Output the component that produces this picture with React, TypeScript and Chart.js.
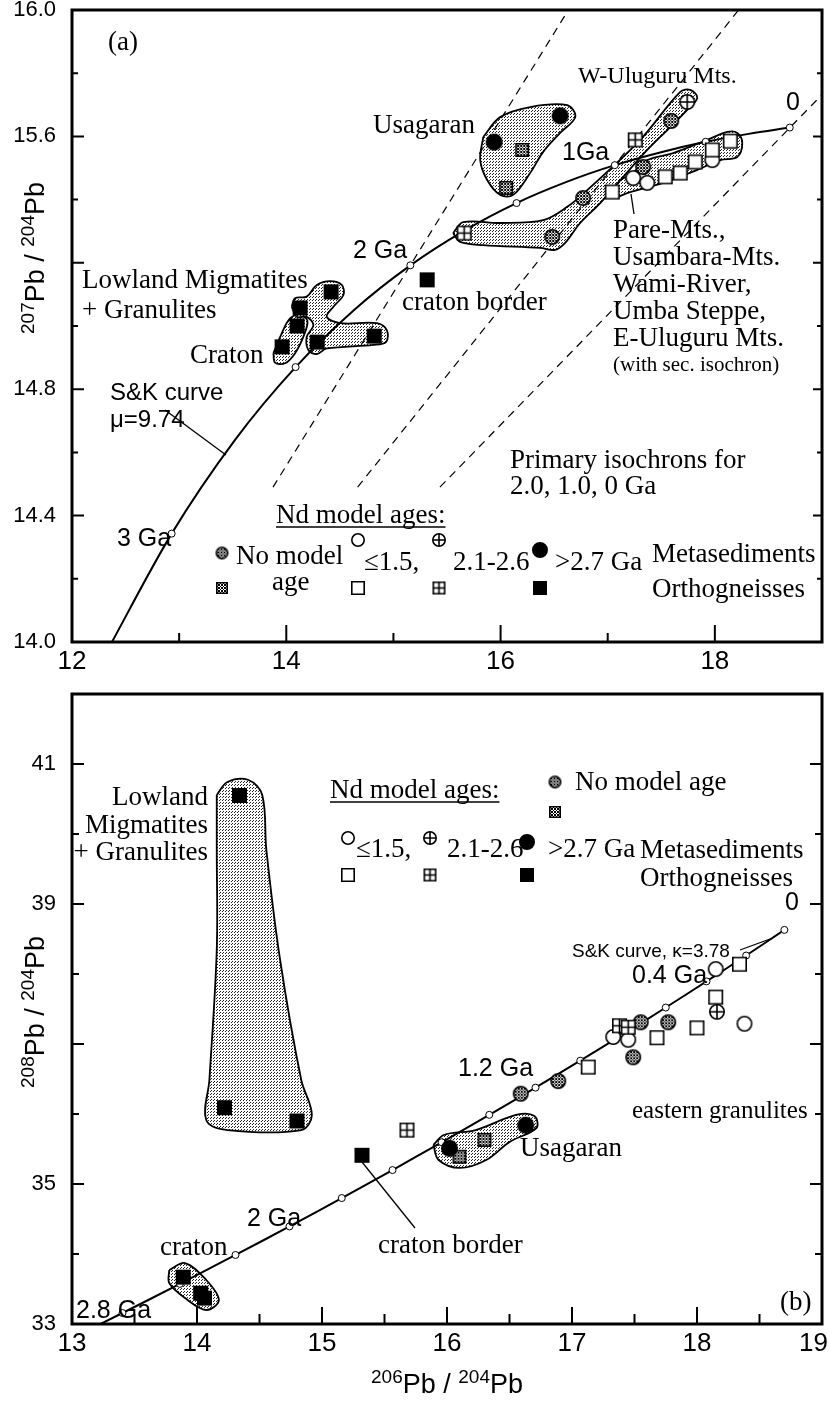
import React, { useEffect, useRef } from 'react';
import { Chart, registerables } from 'chart.js';

Chart.register(...registerables);

const SERIF = '"Liberation Serif", "Times New Roman", serif';
const SANS = '"Liberation Sans", Arial, Helvetica, sans-serif';
const NARROW = '"Liberation Sans Narrow", "Liberation Sans", Arial, sans-serif';

// ================= Panel (a): 207Pb/204Pb vs 206Pb/204Pb =================
const aXTickValues = [12, 13, 14, 15, 16, 17, 18, 19];
const aXTickLabels = ['12', '14', '16', '18'];
const aYTickValues = [14.0, 14.2, 14.4, 14.6, 14.8, 15.0, 15.2, 15.4, 15.6, 15.8, 16.0];
const aYTickLabels = ['14.0', '14.4', '14.8', '15.6', '16.0'];
const aYMajor = ['14.0', '14.4', '14.8', '15.2', '15.6', '16.0'];

// S&K growth curve (mu = 9.74)
const skA206 = [18.699, 18.315, 17.914, 17.498, 17.066, 16.616, 16.149, 15.663, 15.158, 14.633, 14.087, 13.520, 12.930, 12.317];
const skA207 = [15.628, 15.608, 15.583, 15.550, 15.509, 15.456, 15.389, 15.302, 15.192, 15.051, 14.870, 14.639, 14.343, 13.965];
// age marks on the curve: 0, 0.5, 1, 1.5, 2, 2.5, 3 Ga
const skAMark206 = [18.699, 17.914, 17.066, 16.149, 15.158, 14.087, 12.930];
const skAMark207 = [15.628, 15.583, 15.509, 15.389, 15.192, 14.870, 14.343];

// primary isochrons 2.0, 1.0, 0 Ga
const iso20_206 = [13.876, 16.633];
const iso20_207 = [14.49, 16.0];
const iso10_206 = [14.666, 18.222];
const iso10_207 = [14.49, 16.0];
const iso00_206 = [15.434, 19.0];
const iso00_207 = [14.49, 15.732];

// sample groups (outlines)
const usagaranA206 = [15.838, 15.996, 16.276, 16.622, 16.697, 16.556, 16.398, 16.276, 16.118, 15.996, 15.875, 15.810, 15.838];
const usagaranA207 = [15.598, 15.661, 15.693, 15.699, 15.661, 15.611, 15.551, 15.484, 15.415, 15.415, 15.462, 15.525, 15.598];
const uluguruA206 = [15.557, 15.651, 15.996, 16.398, 16.622, 16.809, 17.303, 17.677, 17.770, 17.836, 17.742, 17.556, 17.369, 17.145, 16.930, 16.743, 16.603, 16.510, 16.370, 15.838, 15.623, 15.557];
const uluguruA207 = [15.294, 15.329, 15.326, 15.335, 15.377, 15.430, 15.589, 15.741, 15.747, 15.722, 15.684, 15.620, 15.557, 15.472, 15.389, 15.326, 15.263, 15.241, 15.247, 15.256, 15.266, 15.294];
const pareA206 = [16.958, 17.210, 17.369, 17.612, 17.929, 18.116, 18.209, 18.256, 18.209, 18.050, 17.836, 17.518, 17.210, 17.023, 16.958];
const pareA207 = [15.446, 15.478, 15.525, 15.547, 15.589, 15.614, 15.611, 15.579, 15.535, 15.525, 15.494, 15.453, 15.424, 15.405, 15.446];
const lowlandA206 = [14.051, 14.082, 14.191, 14.285, 14.409, 14.518, 14.533, 14.440, 14.378, 14.502, 14.845, 14.938, 14.932, 14.813, 14.378, 14.285, 14.206, 14.191, 14.253, 14.191, 14.098, 14.051];
const lowlandA207 = [15.061, 15.088, 15.093, 15.130, 15.142, 15.130, 15.098, 15.061, 15.029, 15.009, 15.009, 14.987, 14.950, 14.940, 14.929, 14.911, 14.924, 14.966, 15.003, 15.029, 15.029, 15.061];
const cratonA206 = [13.880, 13.958, 14.035, 14.129, 14.197, 14.166, 14.082, 13.989, 13.895, 13.880];
const cratonA207 = [14.914, 14.977, 15.024, 15.035, 15.017, 14.972, 14.914, 14.882, 14.884, 14.914];

// samples
const aFillSq206 = [14.418, 14.129, 14.101, 13.961, 14.288, 14.820, 15.315];
const aFillSq207 = [15.108, 15.057, 15.000, 14.934, 14.949, 14.968, 15.146];
const aFillCi206 = [15.940, 16.556];
const aFillCi207 = [15.582, 15.665];
const aHatchSq206 = [16.202, 16.052];
const aHatchSq207 = [15.557, 15.437];
const aCrossSq206 = [15.660, 17.257];
const aCrossSq207 = [15.294, 15.589];
const aCrossCi206 = [17.742];
const aCrossCi207 = [15.709];
const aHatchCi206 = [16.482, 16.771, 17.593, 17.331];
const aHatchCi207 = [15.282, 15.405, 15.649, 15.503];
const aOpenSq206 = [17.042, 17.537, 17.677, 17.817, 17.976, 18.144];
const aOpenSq207 = [15.424, 15.472, 15.484, 15.519, 15.557, 15.585];
const aOpenCi206 = [17.238, 17.369, 17.976];
const aOpenCi207 = [15.468, 15.453, 15.525];

// ================= Panel (b): 208Pb/204Pb vs 206Pb/204Pb =================
const bXTickValues = [13, 13.5, 14, 14.5, 15, 15.5, 16, 16.5, 17, 17.5, 18, 18.5, 19];
const bXTickLabels = ['13', '14', '15', '16', '17', '18', '19'];
const bYTickValues = [33, 34, 35, 36, 37, 38, 39, 40, 41, 42];
const bYTickLabels = ['33', '35', '39', '41'];
const bYMajor = ['33', '35', '37', '39', '41'];

// S&K curve (kappa = 3.78), marks every 0.2 Ga from 0 to 2.8 Ga
const skB206 = [18.699, 18.393, 18.076, 17.750, 17.413, 17.066, 16.708, 16.338, 15.957, 15.564, 15.158, 14.740, 14.308, 13.863, 13.404, 12.930];
const skB208 = [38.630, 38.264, 37.894, 37.521, 37.143, 36.762, 36.377, 35.988, 35.596, 35.199, 34.799, 34.394, 33.986, 33.573, 33.157, 32.736];
const skBMark206 = [18.699, 18.393, 18.076, 17.750, 17.413, 17.066, 16.708, 16.338, 15.957, 15.564, 15.158, 14.740, 14.308, 13.863, 13.404];
const skBMark208 = [38.630, 38.264, 37.894, 37.521, 37.143, 36.762, 36.377, 35.988, 35.596, 35.199, 34.799, 34.394, 33.986, 33.573, 33.157];

const lowlandB206 = [14.158, 14.243, 14.412, 14.522, 14.555, 14.665, 14.834, 14.919, 14.834, 14.243, 14.074, 14.099, 14.158, 14.158, 14.158];
const lowlandB208 = [40.557, 40.743, 40.771, 40.557, 39.771, 38.200, 36.486, 35.986, 35.771, 35.771, 35.914, 36.486, 38.343, 39.771, 40.557];
const usagaranB206 = [15.891, 15.975, 16.229, 16.560, 16.700, 16.715, 16.500, 16.314, 16.102, 15.933, 15.891];
const usagaranB208 = [35.557, 35.700, 35.771, 35.990, 35.970, 35.800, 35.600, 35.343, 35.229, 35.343, 35.557];
const cratonB206 = [13.778, 13.904, 14.074, 14.175, 14.074, 13.904, 13.778, 13.778];
const cratonB208 = [33.771, 33.871, 33.629, 33.343, 33.200, 33.371, 33.586, 33.771];

const bFillSq206 = [14.34, 14.22, 14.80, 15.32, 13.89, 14.03, 14.06];
const bFillSq208 = [40.55, 36.09, 35.90, 35.41, 33.67, 33.44, 33.37];
const bFillCi206 = [16.63, 16.02];
const bFillCi208 = [35.84, 35.51];
const bHatchSq206 = [16.30, 16.10];
const bHatchSq208 = [35.63, 35.39];
const bCrossSq206 = [15.68, 17.38, 17.45];
const bCrossSq208 = [35.77, 37.26, 37.24];
const bCrossCi206 = [18.16];
const bCrossCi208 = [37.46];
const bHatchCi206 = [17.77, 17.55, 17.49, 16.89, 16.59];
const bHatchCi208 = [37.31, 37.31, 36.81, 36.47, 36.29];
const bOpenSq206 = [18.34, 18.15, 18.00, 17.68, 17.13];
const bOpenSq208 = [38.14, 37.67, 37.23, 37.09, 36.67];
const bOpenCi206 = [18.15, 18.38, 17.33, 17.45];
const bOpenCi208 = [38.07, 37.29, 37.10, 37.06];

// ================= helpers =================
function toPts(xs: number[], ys: number[]) {
  return xs.map((x, i) => ({ x, y: ys[i] }));
}

function makeMarker(kind: string, size: number): HTMLCanvasElement {
  const pad = 2;
  const c = document.createElement('canvas');
  c.width = size + pad * 2;
  c.height = size + pad * 2;
  const ctx = c.getContext('2d') as CanvasRenderingContext2D;
  const cx = c.width / 2;
  const cy = c.height / 2;
  const lw = 1.6;
  const r = size / 2 - lw / 2;
  const circle = kind.indexOf('Ci') >= 0;
  const path = () => {
    ctx.beginPath();
    if (circle) ctx.arc(cx, cy, r, 0, Math.PI * 2);
    else ctx.rect(cx - r, cy - r, r * 2, r * 2);
  };
  ctx.lineWidth = lw;
  ctx.strokeStyle = '#000';
  if (kind.startsWith('fill')) {
    path();
    ctx.fillStyle = '#000';
    ctx.fill();
    ctx.stroke();
  } else {
    path();
    ctx.fillStyle = '#fff';
    ctx.fill();
    if (kind.startsWith('hatch')) {
      ctx.save();
      path();
      ctx.clip();
      ctx.fillStyle = '#000';
      for (let i = 0; i < c.width; i++) {
        for (let j = 0; j < c.height; j++) {
          if ((i + j) % 3 === 0 || (i - j + 300) % 3 === 0) ctx.fillRect(i, j, 1, 1);
        }
      }
      ctx.restore();
    }
    if (kind.startsWith('cross')) {
      ctx.beginPath();
      ctx.moveTo(cx - r, cy);
      ctx.lineTo(cx + r, cy);
      ctx.moveTo(cx, cy - r);
      ctx.lineTo(cx, cy + r);
      ctx.stroke();
    }
    path();
    ctx.stroke();
  }
  return c;
}

function makeStipple(ctx: CanvasRenderingContext2D): CanvasPattern | string {
  const t = document.createElement('canvas');
  t.width = 3;
  t.height = 3;
  const tc = t.getContext('2d') as CanvasRenderingContext2D;
  tc.fillStyle = '#fff';
  tc.fillRect(0, 0, 3, 3);
  tc.fillStyle = '#222';
  tc.fillRect(0, 0, 1, 1);
  tc.fillRect(1, 2, 1, 1);
  const p = ctx.createPattern(t, 'repeat');
  return p || '#ccc';
}

type Part = { t: string; sup?: boolean };

function drawRich(ctx: CanvasRenderingContext2D, parts: Part[], x: number, y: number, size: number, supSize: number, rotate: boolean) {
  ctx.save();
  ctx.translate(x, y);
  if (rotate) ctx.rotate(-Math.PI / 2);
  let w = 0;
  for (const p of parts) {
    ctx.font = `${p.sup ? supSize : size}px ${SANS}`;
    w += ctx.measureText(p.t).width;
  }
  let cx = -w / 2;
  ctx.fillStyle = '#000';
  ctx.textAlign = 'left';
  ctx.textBaseline = 'alphabetic';
  for (const p of parts) {
    ctx.font = `${p.sup ? supSize : size}px ${SANS}`;
    ctx.fillText(p.t, cx, p.sup ? -size * 0.38 : 0);
    cx += ctx.measureText(p.t).width;
  }
  ctx.restore();
}

type Label = { t: string; x: number; y: number; f: string; align?: CanvasTextAlign; u?: boolean };

function drawLabels(ctx: CanvasRenderingContext2D, labels: Label[]) {
  ctx.save();
  ctx.fillStyle = '#000';
  ctx.textBaseline = 'alphabetic';
  for (const l of labels) {
    ctx.font = l.f;
    ctx.textAlign = l.align || 'left';
    ctx.fillText(l.t, l.x, l.y);
    if (l.u) {
      const w = ctx.measureText(l.t).width;
      ctx.lineWidth = 1.5;
      ctx.strokeStyle = '#000';
      ctx.beginPath();
      ctx.moveTo(l.x, l.y + 4);
      ctx.lineTo(l.x + w, l.y + 4);
      ctx.stroke();
    }
  }
  ctx.restore();
}

// inward ticks, frame and x tick labels
function drawFrame(chart: any, xLabels: string[], xMajor: (v: number) => boolean, yMajor: (v: number) => boolean, L: any) {
  const { ctx, chartArea: a, scales } = chart;
  ctx.save();
  ctx.strokeStyle = '#000';
  ctx.lineWidth = 2;
  ctx.beginPath();
  for (const t of scales.x.ticks) {
    const px = scales.x.getPixelForValue(t.value);
    const len = xMajor(t.value) ? L.xMaj : L.xMin;
    ctx.moveTo(px, a.bottom);
    ctx.lineTo(px, a.bottom - len);
  }
  for (const t of scales.y.ticks) {
    const py = scales.y.getPixelForValue(t.value);
    const maj = yMajor(t.value);
    ctx.moveTo(a.left, py);
    ctx.lineTo(a.left + (maj ? L.yMaj : L.yMin), py);
    ctx.moveTo(a.right, py);
    ctx.lineTo(a.right - (maj ? L.rMaj : L.rMin), py);
  }
  ctx.stroke();
  ctx.lineWidth = 3;
  ctx.strokeRect(a.left, a.top, a.right - a.left, a.bottom - a.top);
  ctx.font = `26px ${NARROW}`;
  ctx.fillStyle = '#000';
  ctx.textBaseline = 'top';
  for (const t of scales.x.ticks) {
    const s = String(t.value);
    if (!xLabels.includes(s)) continue;
    const px = scales.x.getPixelForValue(t.value);
    const w = ctx.measureText(s).width;
    ctx.textAlign = 'center';
    const cx = Math.min(px, chart.width - 1 - w / 2);
    ctx.fillText(s, cx, a.bottom + 7);
  }
  ctx.restore();
}

function drawLine(ctx: CanvasRenderingContext2D, x1: number, y1: number, x2: number, y2: number) {
  ctx.save();
  ctx.strokeStyle = '#000';
  ctx.lineWidth = 1.3;
  ctx.beginPath();
  ctx.moveTo(x1, y1);
  ctx.lineTo(x2, y2);
  ctx.stroke();
  ctx.restore();
}

const M: any = {};
function markers() {
  if (!M.ready) {
    M.hatchCi = makeMarker('hatchCi', 16);
    M.hatchSq = makeMarker('hatchSq', 14);
    M.openCi = makeMarker('openCi', 16);
    M.openSq = makeMarker('openSq', 15);
    M.crossCi = makeMarker('crossCi', 16);
    M.crossSq = makeMarker('crossSq', 15);
    M.fillCi = makeMarker('fillCi', 17);
    M.fillSq = makeMarker('fillSq', 15);
    M.lHatchCi = makeMarker('hatchCi', 13);
    M.lHatchSq = makeMarker('hatchSq', 12);
    M.lOpenCi = makeMarker('openCi', 14);
    M.lOpenSq = makeMarker('openSq', 14);
    M.lCrossCi = makeMarker('crossCi', 14);
    M.lCrossSq = makeMarker('crossSq', 13);
    M.lFillCi = makeMarker('fillCi', 16);
    M.lFillSq = makeMarker('fillSq', 14);
    M.ready = true;
  }
  return M;
}

function ptsDs(xs: number[], ys: number[], img: HTMLCanvasElement, order: number) {
  return {
    data: toPts(xs, ys),
    showLine: false,
    pointStyle: img,
    pointRadius: 6,
    order,
  };
}

function lineDs(xs: number[], ys: number[], order: number, extra: any = {}) {
  return {
    data: toPts(xs, ys),
    showLine: true,
    borderColor: '#000',
    borderWidth: 1.8,
    pointRadius: 0,
    fill: false,
    tension: 0,
    order,
    ...extra,
  };
}

function blobDs(xs: number[], ys: number[], pattern: any) {
  return lineDs(xs, ys, 30, { fill: 'shape', backgroundColor: pattern, tension: 0.35, borderWidth: 1.8 });
}

function baseOptions(xMin: number, xMax: number, yMin: number, yMax: number, xVals: number[], yVals: number[], yLabel: (v: number) => string, pad: any, xH: number) {
  return {
    responsive: false,
    animation: false,
    events: [],
    layout: { padding: pad },
    plugins: { legend: { display: false }, tooltip: { enabled: false } },
    scales: {
      x: {
        type: 'linear',
        min: xMin,
        max: xMax,
        afterBuildTicks: (s: any) => { s.ticks = xVals.map((v) => ({ value: v })); },
        afterFit: (s: any) => { s.height = xH; s.paddingLeft = 0; s.paddingRight = 0; },
        grid: { display: false },
        border: { display: false },
        ticks: { display: false },
      },
      y: {
        type: 'linear',
        min: yMin,
        max: yMax,
        afterBuildTicks: (s: any) => { s.ticks = yVals.map((v) => ({ value: v })); },
        afterFit: (s: any) => { s.width = 72; s.paddingTop = 0; s.paddingBottom = 0; },
        grid: { display: false },
        border: { display: false },
        ticks: { autoSkip: false, color: '#000', padding: 8, font: { family: SANS, size: 22 }, callback: (v: any) => yLabel(Number(v)) },
      },
    },
  };
}

const S27 = `27px ${SERIF}`;
const H25 = `25px ${SANS}`;

export default function App() {
  const refA = useRef<HTMLCanvasElement>(null);
  const refB = useRef<HTMLCanvasElement>(null);

  useEffect(() => {
    const mk = markers();
    const ctxA = (refA.current as HTMLCanvasElement).getContext('2d') as CanvasRenderingContext2D;
    const ctxB = (refB.current as HTMLCanvasElement).getContext('2d') as CanvasRenderingContext2D;
    const stA = makeStipple(ctxA);
    const stB = makeStipple(ctxB);

    // ---------- chart a ----------
    const labelsA: Label[] = [
      { t: '(a)', x: 108, y: 50, f: S27 },
      { t: 'W-Uluguru Mts.', x: 578, y: 83, f: `24px ${SERIF}` },
      { t: '0', x: 793, y: 110, f: H25, align: 'center' },
      { t: 'Usagaran', x: 373, y: 133, f: S27 },
      { t: '1Ga', x: 562, y: 160, f: H25 },
      { t: '2 Ga', x: 353, y: 258, f: H25 },
      { t: 'craton border', x: 402, y: 310, f: S27 },
      { t: 'Lowland Migmatites', x: 82, y: 288, f: S27 },
      { t: '+ Granulites', x: 82, y: 318, f: S27 },
      { t: 'Craton', x: 190, y: 363, f: S27 },
      { t: 'Pare-Mts.,', x: 613, y: 238, f: S27 },
      { t: 'Usambara-Mts.', x: 613, y: 265, f: S27 },
      { t: 'Wami-River,', x: 613, y: 292, f: S27 },
      { t: 'Umba Steppe,', x: 613, y: 319, f: S27 },
      { t: 'E-Uluguru Mts.', x: 613, y: 346, f: S27 },
      { t: '(with sec. isochron)', x: 613, y: 371, f: `21px ${SERIF}` },
      { t: 'S&K curve', x: 110, y: 400, f: `24px ${SANS}` },
      { t: 'μ=9.74', x: 110, y: 427, f: `24px ${SANS}` },
      { t: 'Primary isochrons for', x: 510, y: 468, f: S27 },
      { t: '2.0, 1.0, 0 Ga', x: 510, y: 494, f: S27 },
      { t: '3 Ga', x: 117, y: 546, f: H25 },
      { t: 'Nd model ages:', x: 276, y: 523, f: S27, u: true },
      { t: 'No model', x: 236, y: 564, f: S27 },
      { t: 'age', x: 272, y: 590, f: S27 },
      { t: '≤1.5,', x: 364, y: 570, f: S27 },
      { t: '2.1-2.6', x: 453, y: 570, f: S27 },
      { t: '>2.7 Ga', x: 555, y: 570, f: S27 },
      { t: 'Metasediments', x: 652, y: 562, f: S27 },
      { t: 'Orthogneisses', x: 652, y: 597, f: S27 },
    ];

    const pluginA = {
      id: 'decorA',
      afterDraw(chart: any) {
        const c = chart.ctx;
        drawFrame(chart, aXTickLabels, (v) => aXTickLabels.includes(String(v)), (v) => aYMajor.includes(v.toFixed(1)), { xMaj: 17, xMin: 9, yMaj: 12, yMin: 6, rMaj: 9, rMin: 5 });
        drawLabels(c, labelsA);
        drawLine(c, 165, 410, 226, 455);
        drawLine(c, 631, 194, 634, 214);
        c.drawImage(mk.lHatchCi, 222 - mk.lHatchCi.width / 2, 553 - mk.lHatchCi.height / 2);
        c.drawImage(mk.lHatchSq, 222 - mk.lHatchSq.width / 2, 588 - mk.lHatchSq.height / 2);
        c.drawImage(mk.lOpenCi, 358 - mk.lOpenCi.width / 2, 540 - mk.lOpenCi.height / 2);
        c.drawImage(mk.lOpenSq, 358 - mk.lOpenSq.width / 2, 588 - mk.lOpenSq.height / 2);
        c.drawImage(mk.lCrossCi, 439 - mk.lCrossCi.width / 2, 540 - mk.lCrossCi.height / 2);
        c.drawImage(mk.lCrossSq, 439 - mk.lCrossSq.width / 2, 588 - mk.lCrossSq.height / 2);
        c.drawImage(mk.lFillCi, 540 - mk.lFillCi.width / 2, 550 - mk.lFillCi.height / 2);
        c.drawImage(mk.lFillSq, 540 - mk.lFillSq.width / 2, 588 - mk.lFillSq.height / 2);
        drawRich(c, [{ t: '207', sup: true }, { t: 'Pb / ' }, { t: '204', sup: true }, { t: 'Pb' }], 44, 258, 27, 19, true);
      },
    };

    const optsA: any = baseOptions(12, 19, 14, 16, aXTickValues, aYTickValues,
      (v) => (aYTickLabels.includes(v.toFixed(1)) ? v.toFixed(1) : ''),
      { left: 0, right: 7, top: 10, bottom: 0 }, 43);

    const chartA = new Chart(refA.current as HTMLCanvasElement, {
      type: 'line',
      data: {
        datasets: [
          blobDs(usagaranA206, usagaranA207, stA),
          blobDs(uluguruA206, uluguruA207, stA),
          blobDs(pareA206, pareA207, stA),
          blobDs(lowlandA206, lowlandA207, stA),
          blobDs(cratonA206, cratonA207, stA),
          lineDs(iso20_206, iso20_207, 25, { borderDash: [8, 6], borderWidth: 1.2 }),
          lineDs(iso10_206, iso10_207, 25, { borderDash: [8, 6], borderWidth: 1.2 }),
          lineDs(iso00_206, iso00_207, 25, { borderDash: [8, 6], borderWidth: 1.2 }),
          lineDs(skA206, skA207, 20, { tension: 0.3, borderWidth: 2 }),
          {
            data: toPts(skAMark206, skAMark207),
            showLine: false,
            pointStyle: 'circle',
            pointRadius: 3.5,
            pointBackgroundColor: '#fff',
            pointBorderColor: '#000',
            pointBorderWidth: 1,
            order: 15,
          },
          ptsDs(aHatchCi206, aHatchCi207, mk.hatchCi, 6),
          ptsDs(aOpenCi206, aOpenCi207, mk.openCi, 5),
          ptsDs(aOpenSq206, aOpenSq207, mk.openSq, 4),
          ptsDs(aHatchSq206, aHatchSq207, mk.hatchSq, 4),
          ptsDs(aCrossSq206, aCrossSq207, mk.crossSq, 3),
          ptsDs(aCrossCi206, aCrossCi207, mk.crossCi, 3),
          ptsDs(aFillCi206, aFillCi207, mk.fillCi, 2),
          ptsDs(aFillSq206, aFillSq207, mk.fillSq, 2),
        ] as any,
      },
      options: optsA,
      plugins: [pluginA],
    });

    // ---------- chart b ----------
    const OY = 665;
    const labelsB: Label[] = [
      { t: 'Lowland', x: 208, y: 805 - OY, f: S27, align: 'right' },
      { t: 'Migmatites', x: 208, y: 833 - OY, f: S27, align: 'right' },
      { t: '+ Granulites', x: 208, y: 860 - OY, f: S27, align: 'right' },
      { t: 'Nd model ages:', x: 330, y: 798 - OY, f: S27, u: true },
      { t: 'No model age', x: 575, y: 790 - OY, f: S27 },
      { t: '≤1.5,', x: 356, y: 857 - OY, f: S27 },
      { t: '2.1-2.6', x: 447, y: 857 - OY, f: S27 },
      { t: '>2.7 Ga', x: 548, y: 857 - OY, f: S27 },
      { t: 'Metasediments', x: 640, y: 858 - OY, f: S27 },
      { t: 'Orthogneisses', x: 640, y: 886 - OY, f: S27 },
      { t: 'S&K curve, κ=3.78', x: 572, y: 957 - OY, f: `19px ${SANS}` },
      { t: '0', x: 792, y: 910 - OY, f: H25, align: 'center' },
      { t: '0.4 Ga', x: 632, y: 983 - OY, f: H25 },
      { t: '1.2 Ga', x: 458, y: 1076 - OY, f: H25 },
      { t: '2 Ga', x: 247, y: 1226 - OY, f: H25 },
      { t: '2.8 Ga', x: 76, y: 1318 - OY, f: H25 },
      { t: 'eastern granulites', x: 632, y: 1118 - OY, f: `25px ${SERIF}` },
      { t: 'Usagaran', x: 520, y: 1156 - OY, f: S27 },
      { t: 'craton border', x: 378, y: 1253 - OY, f: S27 },
      { t: 'craton', x: 160, y: 1255 - OY, f: S27 },
      { t: '(b)', x: 780, y: 1310 - OY, f: S27 },
    ];

    const pluginB = {
      id: 'decorB',
      afterDraw(chart: any) {
        const c = chart.ctx;
        drawFrame(chart, bXTickLabels, (v) => Number.isInteger(v), (v) => bYMajor.includes(String(v)), { xMaj: 17, xMin: 10, yMaj: 12, yMin: 7, rMaj: 12, rMin: 7 });
        drawLabels(c, labelsB);
        drawLine(c, 740, 950 - OY, 770, 939 - OY);
        drawLine(c, 415, 1228 - OY, 362, 1162 - OY);
        c.drawImage(mk.lHatchCi, 555 - mk.lHatchCi.width / 2, 782 - OY - mk.lHatchCi.height / 2);
        c.drawImage(mk.lHatchSq, 555 - mk.lHatchSq.width / 2, 812 - OY - mk.lHatchSq.height / 2);
        c.drawImage(mk.lOpenCi, 348 - mk.lOpenCi.width / 2, 838 - OY - mk.lOpenCi.height / 2);
        c.drawImage(mk.lOpenSq, 348 - mk.lOpenSq.width / 2, 875 - OY - mk.lOpenSq.height / 2);
        c.drawImage(mk.lCrossCi, 430 - mk.lCrossCi.width / 2, 838 - OY - mk.lCrossCi.height / 2);
        c.drawImage(mk.lCrossSq, 430 - mk.lCrossSq.width / 2, 875 - OY - mk.lCrossSq.height / 2);
        c.drawImage(mk.lFillCi, 527 - mk.lFillCi.width / 2, 842 - OY - mk.lFillCi.height / 2);
        c.drawImage(mk.lFillSq, 527 - mk.lFillSq.width / 2, 875 - OY - mk.lFillSq.height / 2);
        drawRich(c, [{ t: '208', sup: true }, { t: 'Pb / ' }, { t: '204', sup: true }, { t: 'Pb' }], 44, 1012 - OY, 27, 19, true);
        drawRich(c, [{ t: '206', sup: true }, { t: 'Pb / ' }, { t: '204', sup: true }, { t: 'Pb' }], 447, 1393 - OY, 27, 19, false);
      },
    };

    const optsB: any = baseOptions(13, 19, 33, 42, bXTickValues, bYTickValues,
      (v) => (bYTickLabels.includes(String(v)) ? String(v) : ''),
      { left: 0, right: 7, top: 29, bottom: 0 }, 77);

    const chartB = new Chart(refB.current as HTMLCanvasElement, {
      type: 'line',
      data: {
        datasets: [
          blobDs(lowlandB206, lowlandB208, stB),
          blobDs(usagaranB206, usagaranB208, stB),
          blobDs(cratonB206, cratonB208, stB),
          lineDs(skB206, skB208, 20, { tension: 0.3, borderWidth: 2 }),
          {
            data: toPts(skBMark206, skBMark208),
            showLine: false,
            pointStyle: 'circle',
            pointRadius: 3.5,
            pointBackgroundColor: '#fff',
            pointBorderColor: '#000',
            pointBorderWidth: 1,
            order: 15,
          },
          ptsDs(bHatchCi206, bHatchCi208, mk.hatchCi, 6),
          ptsDs(bOpenCi206, bOpenCi208, mk.openCi, 5),
          ptsDs(bOpenSq206, bOpenSq208, mk.openSq, 4),
          ptsDs(bHatchSq206, bHatchSq208, mk.hatchSq, 4),
          ptsDs(bCrossSq206, bCrossSq208, mk.crossSq, 3),
          ptsDs(bCrossCi206, bCrossCi208, mk.crossCi, 3),
          ptsDs(bFillCi206, bFillCi208, mk.fillCi, 2),
          ptsDs(bFillSq206, bFillSq208, mk.fillSq, 2),
        ] as any,
      },
      options: optsB,
      plugins: [pluginB],
    });

    return () => {
      chartA.destroy();
      chartB.destroy();
    };
  }, []);

  return (
    <div style={{ position: 'absolute', left: 0, top: 0, width: 829, height: 1401, background: '#fff', overflow: 'hidden' }}>
      <canvas ref={refA} width={829} height={685} style={{ position: 'absolute', left: 0, top: 0, width: 829, height: 685 }} />
      <canvas ref={refB} width={829} height={736} style={{ position: 'absolute', left: 0, top: 665, width: 829, height: 736 }} />
    </div>
  );
}
